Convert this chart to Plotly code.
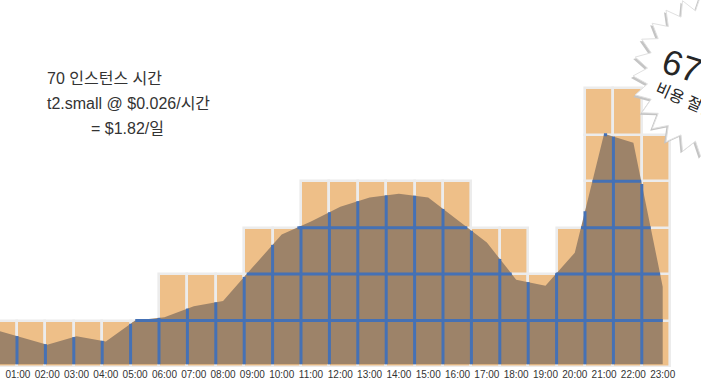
import numpy as np
import plotly.graph_objects as go

# ---------------- data ----------------
hours = ["00:00", "01:00", "02:00", "03:00", "04:00", "05:00", "06:00", "07:00",
         "08:00", "09:00", "10:00", "11:00", "12:00", "13:00", "14:00", "15:00",
         "16:00", "17:00", "18:00", "19:00", "20:00", "21:00", "22:00", "23:00"]
instances = [1, 1, 1, 1, 1, 1, 2, 2, 2, 3, 3, 4, 4, 4, 4, 4, 4, 3, 3, 2, 3, 6, 6, 5]
usage = [0.84, 0.66, 0.48, 0.66, 0.55, 1.00, 1.07, 1.31, 1.42, 2.14, 2.85, 3.13,
         3.45, 3.65, 3.73, 3.65, 3.16, 2.68, 1.88, 1.75, 2.46, 5.02, 4.83, 1.73]
text_lines = ["70 인스턴스 시간", "t2.small @ $0.026/시간", "= $1.82/일"]
badge_big = "67%"
badge_small = "비용 절감"

# ---------------- style ----------------
W, H = 701, 391
MB = 24
PLOT_H = H - MB
ROW_PX = 46.45
UNIT_PX = 28.4
X0_PX = -11.4            # pixel of bar-axis value 0
LABEL_STEP = 1.032       # label/area spacing relative to bar spacing
ORANGE = "#EEBF88"
BROWN = "#9D8369"
BLUE = "#4571B5"
GAP = "#ECECEC"
AREA_BASE = 0.06

fig = go.Figure()

n = len(hours)
area_x = [LABEL_STEP * i for i in range(n)]

# stacked unit squares
for k in range(1, max(instances) + 1):
    xs = [i + 0.5 for i in range(n) if instances[i] >= k]
    fig.add_trace(go.Bar(
        x=xs, y=[1] * len(xs), base=[k - 1] * len(xs), width=1.0,
        marker=dict(color=ORANGE, line=dict(color=GAP, width=2.6)),
        hoverinfo="skip", showlegend=False))

# area (usage)
fig.add_trace(go.Scatter(x=area_x, y=[AREA_BASE] * n, mode="lines",
                         line=dict(width=0), hoverinfo="skip", showlegend=False))
fig.add_trace(go.Scatter(x=area_x, y=usage, mode="lines", fill="tonexty",
                         fillcolor=BROWN, line=dict(width=0, color=BROWN),
                         hoverinfo="skip", showlegend=False))

# blue grid inside the area
lx, ly = [], []
x_end = area_x[-1]
for b in range(1, n):
    if b <= x_end:
        top = float(np.interp(b, area_x, usage))
        lx += [b, b, None]
        ly += [AREA_BASE, top, None]
fine = np.linspace(0, x_end, 6000)
fv = np.interp(fine, area_x, usage)
for k in range(1, max(instances)):
    mask = fv > k
    if not mask.any():
        continue
    edges = np.diff(mask.astype(int))
    starts = list(np.where(edges == 1)[0] + 1)
    ends = list(np.where(edges == -1)[0])
    if mask[0]:
        starts = [0] + starts
    if mask[-1]:
        ends = ends + [len(fine) - 1]
    for s, e in zip(starts, ends):
        lx += [fine[s], fine[e], None]
        ly += [k, k, None]
fig.add_trace(go.Scatter(x=lx, y=ly, mode="lines",
                         line=dict(color=BLUE, width=3),
                         hoverinfo="skip", showlegend=False))

# starburst badge
def to_paper(px, py):
    return px / W, (PLOT_H - py) / PLOT_H

def star_path(cx, cy, R, r, npts, a0):
    pts = []
    for i in range(2 * npts):
        ang = a0 + i * np.pi / npts
        rad = R if i % 2 == 0 else r
        pts.append(to_paper(cx + rad * np.cos(ang), cy + rad * np.sin(ang)))
    return "M " + " L ".join(f"{x:.5f},{y:.5f}" for x, y in pts) + " Z"

cx, cy = 715, 76
fig.add_shape(type="path", xref="paper", yref="paper", layer="above",
              path=star_path(cx - 2, cy + 2, 82, 68, 27, np.pi),
              fillcolor="#C4C4C4", line=dict(width=0))
fig.add_shape(type="path", xref="paper", yref="paper", layer="above",
              path=star_path(cx, cy, 82, 68, 27, np.pi),
              fillcolor="white", line=dict(color="#E0E0E0", width=1))

FONT = "Liberation Sans, Arial, Noto Sans CJK KR, sans-serif"
bx, by = to_paper(697, 70)
fig.add_annotation(x=bx, y=by, xref="paper", yref="paper", text=badge_big,
                   showarrow=False, textangle=18, xanchor="center", yanchor="middle",
                   font=dict(family=FONT, size=35, color="#262626"))
bx, by = to_paper(686, 100)
fig.add_annotation(x=bx, y=by, xref="paper", yref="paper", text=badge_small,
                   showarrow=False, textangle=24, xanchor="center", yanchor="middle",
                   font=dict(family=FONT, size=16, color="#262626"))

# text block
for (px, py), t in zip([(45, 78), (45, 103), (89, 128)], text_lines):
    ax_, ay_ = to_paper(px, py)
    fig.add_annotation(x=ax_, y=ay_, xref="paper", yref="paper", text=t,
                       showarrow=False, xanchor="left", yanchor="middle",
                       font=dict(family=FONT, size=16, color="#333333"))

fig.update_layout(
    width=W, height=H,
    margin=dict(l=0, r=0, t=0, b=MB),
    paper_bgcolor="white", plot_bgcolor="white",
    barmode="overlay", bargap=0, showlegend=False,
    xaxis=dict(range=[(0 - X0_PX) / UNIT_PX, (W - X0_PX) / UNIT_PX],
               tickvals=area_x, ticktext=hours, showgrid=False,
               zeroline=False, showline=False, ticks="",
               tickfont=dict(family=FONT, size=10, color="#333333")),
    yaxis=dict(range=[0, PLOT_H / ROW_PX], visible=False, showgrid=False,
               zeroline=False),
)

fig.write_html("out.html", config={"displayModeBar": False},
               post_script="document.body.style.margin='0px';document.body.style.overflow='hidden';")
